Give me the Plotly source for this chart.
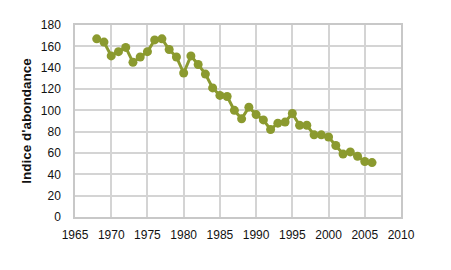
import plotly.graph_objects as go

years = list(range(1968, 2007))
values = [167, 164, 151, 155, 159, 145, 150, 155, 166, 167, 157, 150, 135, 151, 143,
          134, 121, 114, 113, 100, 92, 103, 96, 91, 82, 88, 89, 97, 86, 86, 77, 77,
          75, 67, 59, 61, 57, 52, 51]
x_ticks = list(range(1965, 2011, 5))
y_ticks = list(range(0, 181, 20))

color = "#8b9a2f"
fig = go.Figure(go.Scatter(
    x=years, y=values, mode="lines+markers",
    line=dict(color=color, width=3),
    marker=dict(color=color, size=9),
))
fig.update_layout(
    width=451, height=270,
    margin=dict(l=75, r=50, t=25, b=53),
    paper_bgcolor="white", plot_bgcolor="white",
    font=dict(family="Liberation Sans", size=12, color="#111"),
    showlegend=False,
)
fig.update_xaxes(range=[1965, 2010], tickvals=x_ticks, showgrid=True,
                 gridcolor="#d4d4d4", gridwidth=1.5, showline=True,
                 linecolor="#c8c8c8", linewidth=1.5, mirror=True, ticks="",
                 ticklabelstandoff=6, zeroline=False)
fig.update_yaxes(range=[0, 180], tickvals=y_ticks, showgrid=True,
                 gridcolor="#d4d4d4", gridwidth=1.5, showline=True,
                 linecolor="#c8c8c8", linewidth=1.5, mirror=True, ticks="",
                 ticklabelstandoff=10, zeroline=False,
                 title=dict(text="<b>Indice d'abondance</b>", standoff=6,
                            font=dict(size=13.5)))
fig.write_html("out.html")
